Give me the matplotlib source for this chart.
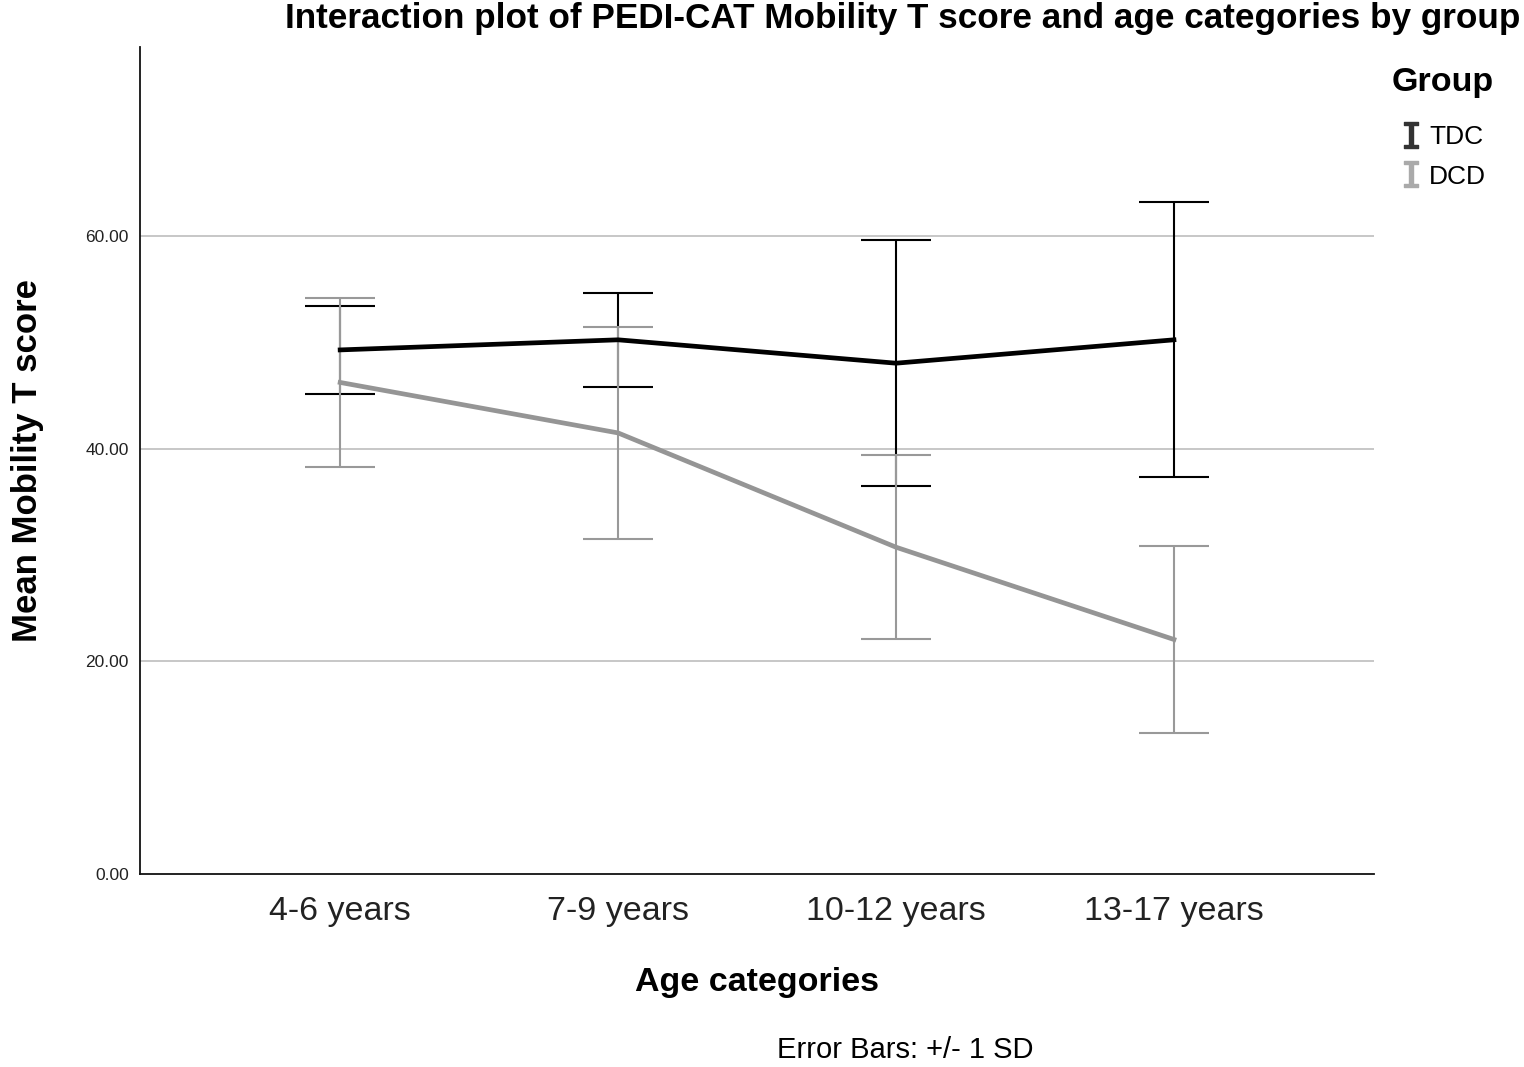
import matplotlib.pyplot as plt
from matplotlib.lines import Line2D

plt.rcParams['font.family'] = ['Liberation Sans', 'DejaVu Sans']

# dados (média e desvio padrão)
age_cats = ["4-6 years", "7-9 years", "10-12 years", "13-17 years"]
tdc_mean = [49.3, 50.25, 48.05, 50.25]
tdc_sd = [4.17, 4.40, 11.58, 12.92]
dcd_mean = [46.24, 41.49, 30.74, 22.06]
dcd_sd = [7.92, 10.0, 8.66, 8.77]
y_ticks = [0, 20, 40, 60]

grey = "#999999"
x = list(range(len(age_cats)))

fig = plt.figure(figsize=(15.24, 10.67), dpi=100)
ax = fig.add_axes([0.0919, 0.1809, 0.8097, 0.7751])

ax.set_axisbelow(True)
for t in y_ticks[1:]:
    ax.axhline(t, color="#bdbdbd", lw=1.2, zorder=0)

# TDC
ax.errorbar(x, tdc_mean, yerr=tdc_sd, fmt="none", ecolor="black",
            elinewidth=1.5, capsize=25, capthick=1.5, zorder=2)
ax.plot(x, tdc_mean, color="black", lw=3.4, zorder=4)

# DCD
ax.errorbar(x, dcd_mean, yerr=dcd_sd, fmt="none", ecolor=grey,
            elinewidth=1.5, capsize=25, capthick=1.5, zorder=3)
ax.plot(x, dcd_mean, color="#959595", lw=3.4, zorder=3.5)

ax.set_xlim(-0.72, 3.72)
ax.set_ylim(0, 77.8)
ax.set_xticks(x)
ax.set_xticklabels(age_cats, fontsize=24.5, color="#222222")
ax.set_yticks(y_ticks)
ax.set_yticklabels(["%.2f" % v for v in y_ticks], fontsize=12.5, color="#222222")
ax.tick_params(length=0, pad=8)
ax.tick_params(axis="x", pad=16)

for s in ["top", "right"]:
    ax.spines[s].set_visible(False)
for s in ["left", "bottom"]:
    ax.spines[s].set_linewidth(1.3)
    ax.spines[s].set_color("#111111")

ax.set_xlabel("Age categories", fontsize=24.5, fontweight="bold", labelpad=29)
ax.set_ylabel("Mean Mobility T score", fontsize=25, fontweight="bold", labelpad=30)

fig.text(0.9974, 0.983, "Interaction plot of PEDI-CAT Mobility T score and age categories by group",
         fontsize=25.3, fontweight="bold", ha="right", va="center")
fig.text(0.594, 0.0155, "Error Bars: +/- 1 SD", fontsize=21, ha="center", va="center")

# legenda
fig.text(0.9134, 0.923, "Group", fontsize=24.5, fontweight="bold", ha="left", va="center")
handles = [
    Line2D([], [], ls="none", marker="$\\mathtt{I}$", ms=18, color="#333333", label="TDC"),
    Line2D([], [], ls="none", marker="$\\mathtt{I}$", ms=18, color="#aaaaaa", label="DCD"),
]
fig.legend(handles=handles, loc="upper left", bbox_to_anchor=(0.9186, 0.883),
           frameon=False, fontsize=19, borderpad=0, borderaxespad=0,
           handlelength=0.8, handletextpad=0.3, labelspacing=0.6)

fig.savefig("out.png", dpi=100)
